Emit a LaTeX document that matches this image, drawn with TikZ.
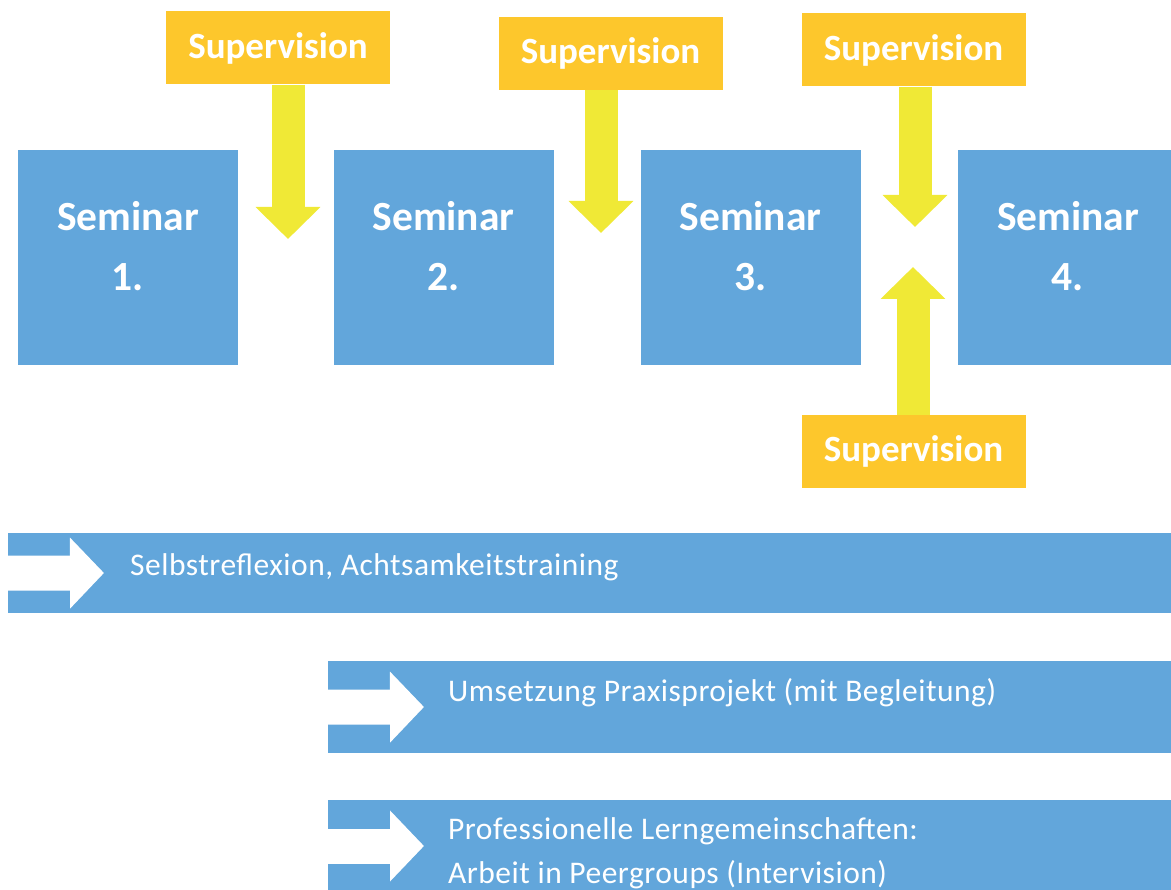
\documentclass[tikz,border=0pt]{standalone}
\usepackage{fontspec}
\setmainfont{Carlito}
\newfontfamily\barfont[LetterSpace=1.6]{Carlito}
\usetikzlibrary{arrows.meta}
\definecolor{semblue}{HTML}{62A6DB}
\definecolor{supgold}{HTML}{FDC72C}
\definecolor{arrowyellow}{HTML}{F0E936}

\begin{document}
\begin{tikzpicture}[x=1pt,y=-1pt,
  seminar/.style={fill=semblue, minimum width=220pt, minimum height=215pt, inner sep=0pt},
  semtext/.style={text=white, inner sep=0pt, align=center,
    font=\fontsize{41.5}{60}\selectfont\bfseries},
  supbox/.style={fill=supgold, minimum width=224pt, minimum height=73pt, inner sep=0pt,
    text=white, font=\fontsize{37}{44}\selectfont\bfseries},
  suparrow/.style={draw=arrowyellow, line width=33pt,
    -{Triangle[length=32pt 0, width=63pt 0]}},
  bar/.style={fill=semblue, anchor=north west, inner sep=0pt},
  bararrow/.style={draw=white, line width=35pt,
    -{Triangle[length=34pt 0, width=69pt 0]}},
  bartext/.style={text=white, anchor=base west, inner sep=0pt, align=left,
    font=\barfont\fontsize{31.5}{44}\selectfont}
]
\useasboundingbox (0,0) rectangle (1171,890);
\fill[white] (0,0) rectangle (1171,890);
\clip (0,0) rectangle (1171,890);

% seminar blocks
\node[seminar] (s1) at (128,257.5) {};
\node[seminar] (s2) at (443.5,257.5) {};
\node[seminar] (s3) at (750.5,257.5) {};
\node[seminar] (s4) at (1068,257.5) {};
\node[semtext] (s1t) at ([yshift=11.5pt]s1.center) {Seminar\\1.};
\node[semtext] (s2t) at ([yshift=11.5pt]s2.center) {Seminar\\2.};
\node[semtext] (s3t) at ([yshift=11.5pt]s3.center) {Seminar\\3.};
\node[semtext] (s4t) at ([yshift=11.5pt]s4.center) {Seminar\\4.};

% supervision boxes
\node[supbox] (sup1) at (278,48) {Supervision};
\node[supbox] (sup2) at (610.5,53.5) {Supervision};
\node[supbox] (sup3) at (913.5,50) {Supervision};
\node[supbox] (sup4) at (913.5,451.5) {Supervision};

% arrow targets between the seminars
\coordinate (t1) at (288,239);
\coordinate (t2) at (601,233);
\coordinate (t3) at (915,227);
\coordinate (t4) at (913,267);

\draw[suparrow] (sup1.south -| t1) -- (t1);
\draw[suparrow] (sup2.south -| t2) -- (t2);
\draw[suparrow] (sup3.south -| t3) -- (t3);
\draw[suparrow] (sup4.north -| t4) -- (t4);

% accompanying activities
\node[bar, minimum width=1163pt, minimum height=80pt] (b1) at (8,533) {};
\node[bar, minimum width=843pt, minimum height=92pt] (b2) at (328,661) {};
\node[bar, minimum width=843pt, minimum height=92pt] (b3) at (328,800) {};

\coordinate (a1) at (104,573);
\coordinate (a2) at (424,707);
\coordinate (a3) at (424,846);
\draw[bararrow] (b1.west) -- (a1);
\draw[bararrow] (b2.west) -- (a2);
\draw[bararrow] (b3.west |- a3) -- (a3);

\node[bartext] (b1t) at (130,576) {Selbstreflexion, Achtsamkeitstraining};
\node[bartext] (b2t) at (448,701) {Umsetzung Praxisprojekt (mit Begleitung)};
\node[bartext] (b3t) at (448,883) {Professionelle Lerngemeinschaften:\\Arbeit in Peergroups (Intervision)};
\end{tikzpicture}
\end{document}
